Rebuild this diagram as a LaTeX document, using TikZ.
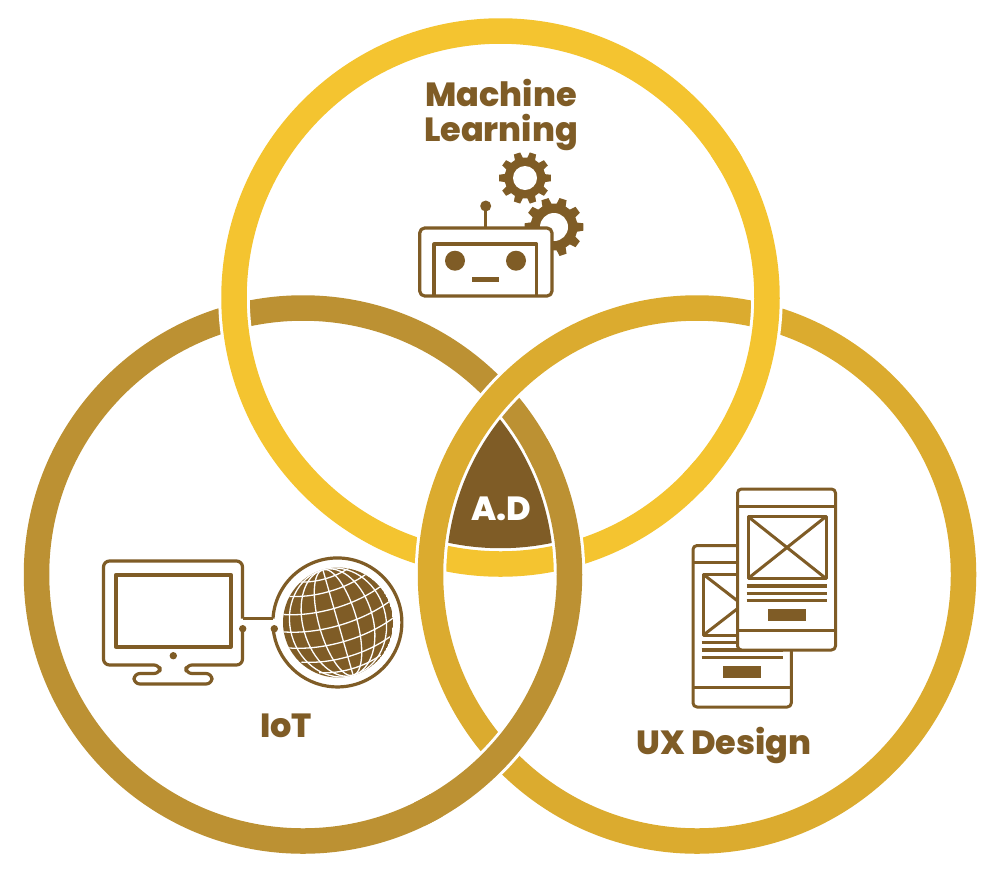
\documentclass[tikz,border=0pt]{standalone}
\usepackage{fontspec}
\setmainfont[BoldFont={Poppins ExtraBold}]{Poppins}
\definecolor{iotgold}{HTML}{BC9133}
\definecolor{mlyellow}{HTML}{F4C430}
\definecolor{uxgold}{HTML}{DBAB2F}
\definecolor{iconbrown}{HTML}{7F5C26}
\tikzset{
  halo/.style={white,line width=31.5},
  ringL/.style={iotgold,line width=25.5},
  ringT/.style={mlyellow,line width=25.5},
  ringR/.style={uxgold,line width=25.5},
  icon/.style={iconbrown,line width=3.2,line join=round},
  label/.style={iconbrown,font=\bfseries\fontsize{33.5}{34}\selectfont,anchor=base,inner sep=0pt}
}
% gear: x, y, teeth, outer radius, root radius, hole radius
\newcommand{\gear}[6]{
  \pgfmathsetmacro{\stepang}{360/#3}
  \fill[iconbrown] ({#1+#5*cos(-.30*\stepang)},{#2+#5*sin(-.30*\stepang)})
    \foreach \k in {1,...,#3} {
      \pgfextra{\pgfmathsetmacro{\ang}{\k*\stepang-\stepang}}
      -- ({#1+#4*cos(\ang-.2*\stepang)},{#2+#4*sin(\ang-.2*\stepang)})
      -- ({#1+#4*cos(\ang+.2*\stepang)},{#2+#4*sin(\ang+.2*\stepang)})
      -- ({#1+#5*cos(\ang+.32*\stepang)},{#2+#5*sin(\ang+.32*\stepang)})
      -- ({#1+#5*cos(\ang+.68*\stepang)},{#2+#5*sin(\ang+.68*\stepang)})
    } -- cycle;
  \fill[white] (#1,#2) circle[radius=#6];
}
\begin{document}
\begin{tikzpicture}[x=1pt,y=-1pt]
\useasboundingbox (0,0) rectangle (1000,873);
\fill[white] (0,0) rectangle (1000,873);
\coordinate (cT) at (500.5,297.5);
\coordinate (cL) at (303,574.5);
\coordinate (cR) at (697,574.5);

% rings, then the two bits that go over again
\draw[ringL] (cL) circle[radius=266.5];
\draw[halo] (cT) circle[radius=266.5];
\draw[ringT] (cT) circle[radius=266.5];
\draw[halo] (cR) circle[radius=266.5];
\draw[ringR] (cR) circle[radius=266.5];
\draw[halo] ([shift={(-30:266.5)}]cT) arc[start angle=-30,end angle=40,radius=266.5];
\draw[ringT] ([shift={(-34:266.5)}]cT) arc[start angle=-34,end angle=44,radius=266.5];
\draw[halo] ([shift={(-25:266.5)}]cL) arc[start angle=-25,end angle=60,radius=266.5];
\draw[ringL] ([shift={(-29:266.5)}]cL) arc[start angle=-29,end angle=64,radius=266.5];

% centre piece
\begin{scope}
  \clip (cT) circle[radius=250.7];
  \clip (cL) circle[radius=250.7];
  \fill[iconbrown] (cR) circle[radius=250.7];
\end{scope}

% labels
\node[label] (ml1) at (501,106) {Machine};
\node[label] (ml2) at (501,141) {Learning};
\node[label] (iot) at (286,737) {IoT};
\node[label] (ux) at (724,754) {UX Design};
\node[label,text=white] (ad) at (501.5,520) {A.D};

% robot
\gear{525}{178}{10}{26}{20.5}{12}
\gear{554}{227}{10}{29.5}{23.5}{14}
\draw[icon,line width=2.5] (485.7,206) -- (485.7,228);
\fill[iconbrown] (485.7,206) circle[radius=5.5];
\draw[icon,fill=white,rounded corners=5] (419.7,228) rectangle (552,296);
\draw[icon] (434,296) -- (434,244) -- (536.5,244) -- (536.5,296);
\foreach \ex in {455,516}
  \fill[iconbrown] (\ex,260.7) circle[radius=10];
\fill[iconbrown] (472,277) rectangle (499,282);

% monitor
\draw[icon,rounded corners=6] (242.5,628.7) -- (242.5,665) -- (186,665)
  -- (186,673.5) -- (212,673.5) -- (212,684) -- (134,684) -- (134,673.5)
  -- (160,673.5) -- (160,665) -- (103.5,665) -- (103.5,561) -- (242.5,561) -- (242.5,618.5);
\draw[icon] (242.5,618.5) -- (273,618.5);
\draw[icon,line width=4] (116,574.7) rectangle (230.7,646.7);
\fill[iconbrown] (173.3,655.7) circle[radius=3.7];
\fill[iconbrown] (242.7,628.7) circle[radius=3.7];
\fill[iconbrown] (274.3,628.7) circle[radius=3.7];

% globe
\draw[icon] (273,618.5) arc[start angle=183.5,end angle=534.4,radius=64.5];
\coordinate (cG) at (338,622.5);
\begin{scope}
  \clip (cG) circle[radius=55];
  \fill[iconbrown] (cG) circle[radius=55];
  \begin{scope}[shift={(cG)},rotate=16,white,line width=1.3]
    \draw (0,-55) -- (0,55);
    \foreach \rx in {19,35,48}
      \draw (0,0) ellipse[x radius=\rx,y radius=55];
    \foreach \py/\px in {-6/55,-23/51,-39/41,-50/27,11/54,28/46,43/32}
      \draw (-\px,\py) .. controls (-.4*\px,\py+.22*\px) and (.4*\px,\py+.22*\px) .. (\px,\py);
  \end{scope}
\end{scope}

% phones
\draw[icon,line width=3,rounded corners=4] (693,545.5) rectangle (791.3,707);
\foreach \ly in {562.3,687.3}
  \draw[icon,line width=3] (693,\ly) -- (791.3,\ly);
\draw[icon,line width=3] (703.5,574.5) rectangle (781.5,635);
\draw[icon,line width=3] (703.5,574.5) -- (781.5,635) (703.5,635) -- (781.5,574.5);
\foreach \ly in {642.7,650,657.7}
  \draw[icon,line width=3.2] (701.7,\ly) -- (782.7,\ly);
\fill[iconbrown] (723.3,666) rectangle (761,677.7);
\draw[icon,line width=3,fill=white,rounded corners=4] (737.5,489) rectangle (835.5,650);
\foreach \ly in {506,630.7}
  \draw[icon,line width=3] (737.5,\ly) -- (835.5,\ly);
\draw[icon,line width=3] (748,516.5) rectangle (826,578.5);
\draw[icon,line width=3] (748,516.5) -- (826,578.5) (748,578.5) -- (826,516.5);
\foreach \ly in {586,593.3,600.7}
  \draw[icon,line width=3.2] (746.7,\ly) -- (827.3,\ly);
\fill[iconbrown] (768.3,609.3) rectangle (805.7,621);
\end{tikzpicture}
\end{document}
